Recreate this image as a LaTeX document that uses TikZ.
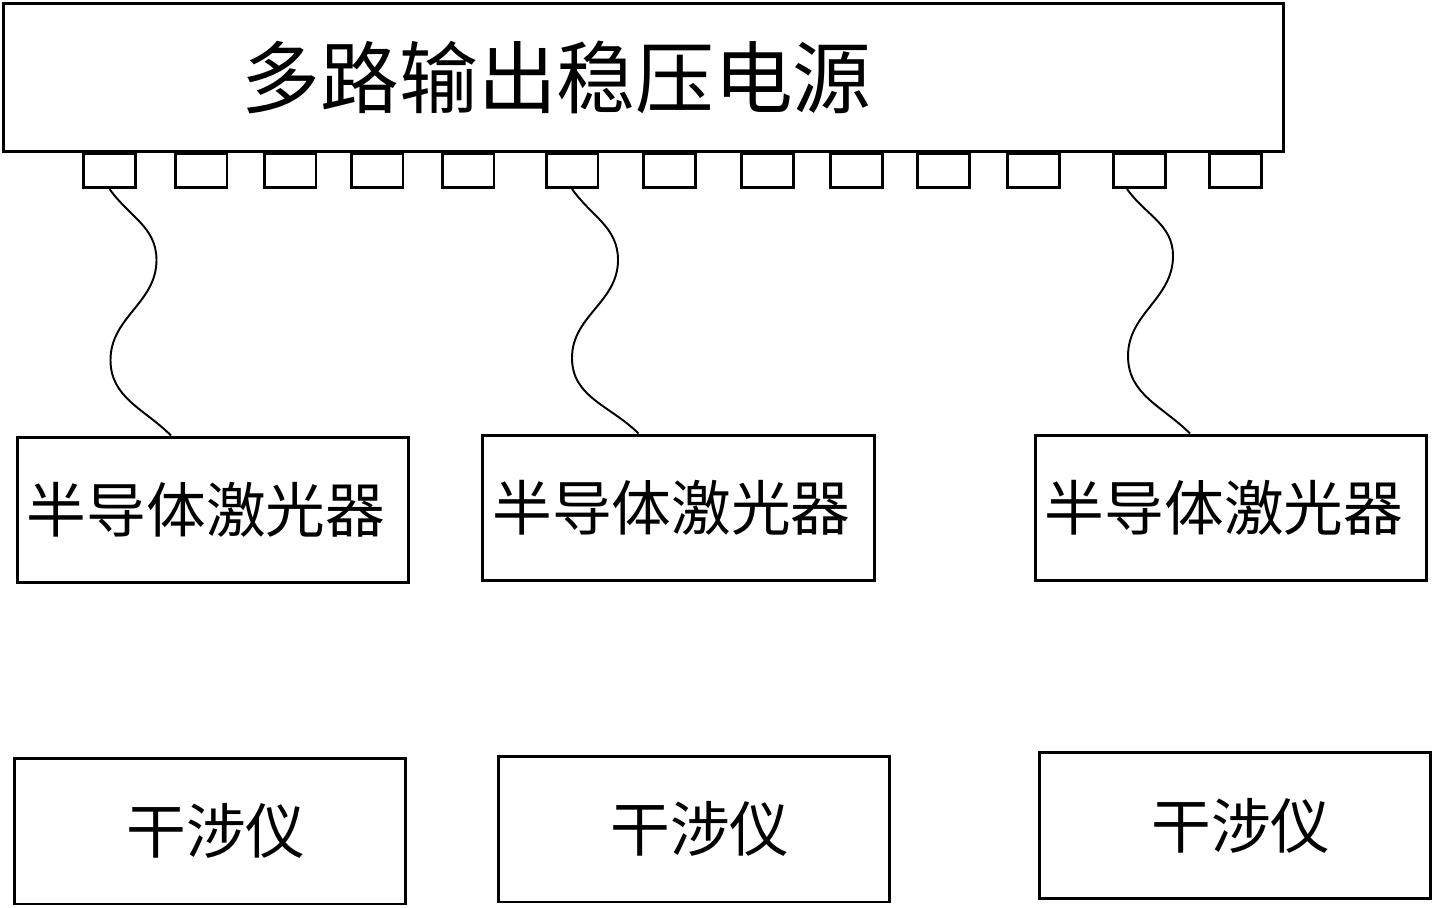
\documentclass[tikz,border=0pt]{standalone}
\usepackage{fontspec}
\newfontfamily\cjk{Noto Sans CJK SC}
\usetikzlibrary{calc}

\begin{document}
\begin{tikzpicture}[x=0.02cm, y=-0.02cm,
    box/.style={draw=black, line width=1.7pt, minimum width=7.84cm, minimum height=2.92cm,
                inner sep=0pt, font=\cjk\fontsize{34}{34}\selectfont},
    port/.style={draw=black, line width=1.7pt, minimum width=1.04cm, minimum height=0.68cm, inner sep=0pt},
    wire/.style={line width=1.1pt}
]
\useasboundingbox (0,0) rectangle (1435,908);

% power supply with its outputs
\node[draw=black, line width=1.7pt, minimum width=25.62cm, minimum height=2.98cm, inner sep=0pt,
      label={[anchor=west, inner sep=0pt, xshift=4.8cm, font=\cjk\fontsize{44.8}{44.8}\selectfont]west:多路输出稳压电源}]
      (psu) at (643.5,77.5) {};
\foreach \px [count=\i] in {109.5,201,290,377,468,572,669.5,767,856,943,1033.5,1139,1235.5}
  \node[port, anchor=north] (p\i) at (\px,152) {};

% lasers
\node[box] (ld1) at (213,510) {\hspace*{-0.28cm}半导体激光器};
\node[box] (ld2) at (678.5,508) {\hspace*{-0.28cm}半导体激光器};
\node[box] (ld3) at (1231,508) {\hspace*{-0.28cm}半导体激光器};

% interferometers
\node[box] (ifm1) at (210,831) {\hspace*{0.24cm}干涉仪};
\node[box] (ifm2) at (694,829) {\hspace*{0.24cm}干涉仪};
\node[box] (ifm3) at (1235,825.5) {\hspace*{0.24cm}干涉仪};

% cables
\draw[wire] (p1.south) to[out=-55,in=90] ++(47,71) to[out=-90,in=90] ++(-46,100)
    to[out=-90,in=135] ($(ld1.north)+(-42,0)$);
\draw[wire] (p6.south) to[out=-55,in=90] ++(46,71) to[out=-90,in=90] ++(-46,98)
    to[out=-90,in=135] ($(ld2.north)+(-40,0)$);
\draw[wire] ($(p12.south)+(-12,0)$) to[out=-55,in=90] ++(46,67) to[out=-90,in=90] ++(-45,100)
    to[out=-90,in=135] ($(ld3.north)+(-41,0)$);
\end{tikzpicture}
\end{document}
